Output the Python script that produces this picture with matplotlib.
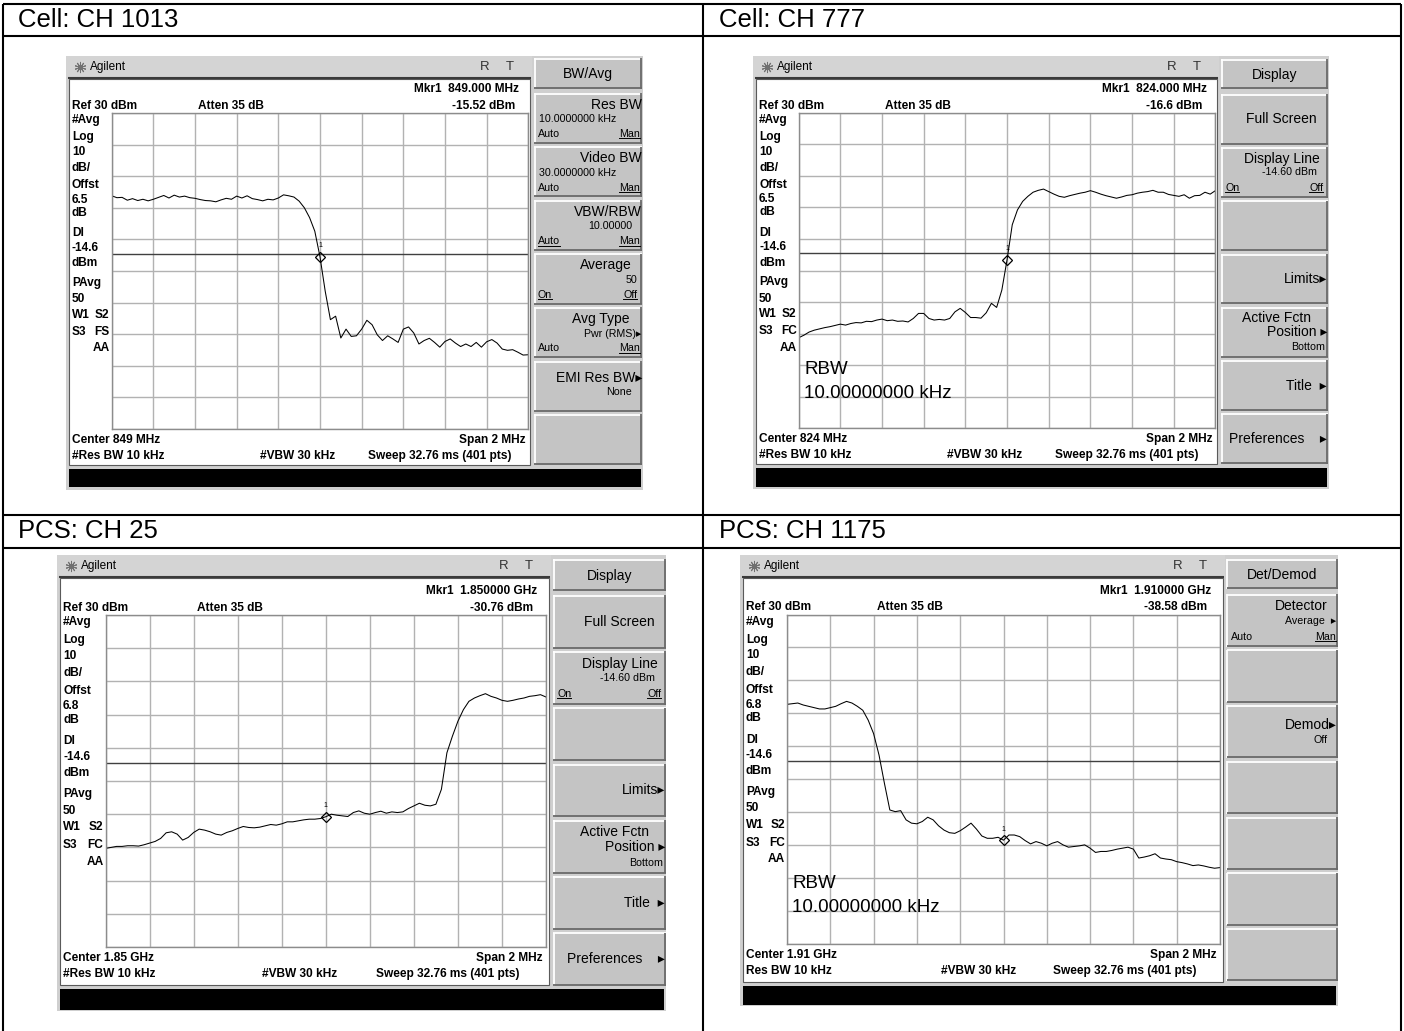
import numpy as np
import matplotlib
matplotlib.use('Agg')
import matplotlib.pyplot as plt
from matplotlib.patches import Rectangle
from matplotlib.lines import Line2D
from matplotlib.transforms import IdentityTransform

W, H = 1404, 1031
FONT = ['Liberation Sans', 'DejaVu Sans']

# ---------------- data ----------------
# levels in dBm, 81 readings across the 2 MHz span (-1 MHz .. +1 MHz)
ch1013_dbm = [3.8, 3.2, 3.3, 2.4, 2.9, 2.3, 2.7, 2.2, 2.7, 3.3,
              3.9, 3.1, 4.0, 3.4, 3.7, 3.2, 3.0, 2.6, 2.3, 2.2,
              1.9, 2.5, 3.0, 2.7, 3.7, 3.1, 3.8, 2.9, 2.6, 2.2,
              2.7, 2.5, 3.1, 4.1, 3.8, 3.4, 2.1, 0.0, -3.1, -7.4,
              -15.52, -26.4, -35.4, -34.3, -41.2, -38.4, -40.7, -40.5, -38.4, -35.6,
              -37.0, -40.2, -42.0, -40.5, -41.5, -42.6, -38.4, -37.7, -39.6, -43.1,
              -42.0, -41.3, -42.6, -44.1, -42.3, -41.5, -42.8, -43.9, -43.1, -43.9,
              -42.6, -44.1, -42.4, -41.7, -42.8, -44.7, -45.1, -44.9, -45.7, -46.6, -46.5]
ch777_dbm = [-41.3, -40.5, -39.5, -38.9, -38.5, -38.1, -37.8, -37.4, -37.0, -37.3,
             -36.8, -36.5, -36.6, -36.1, -36.2, -35.7, -35.4, -35.9, -35.7, -36.1,
             -36.0, -36.3, -35.2, -33.6, -33.6, -35.2, -35.7, -35.5, -35.7, -35.2,
             -33.1, -32.0, -33.3, -34.9, -34.9, -35.1, -33.4, -30.4, -31.7, -26.2,
             -16.6, -5.5, -0.8, 1.9, 3.5, 4.8, 5.4, 5.8, 5.0, 4.2,
             3.5, 3.2, 3.7, 4.1, 4.5, 4.8, 5.3, 4.8, 4.2, 3.7,
             3.3, 2.9, 3.3, 3.8, 4.0, 4.5, 4.8, 5.0, 5.4, 4.8,
             4.8, 4.1, 3.8, 3.5, 4.0, 2.9, 3.7, 3.8, 4.8, 4.2, 5.3]
ch25_dbm = [-40.3, -40.0, -39.7, -39.7, -39.5, -39.5, -39.6, -39.2, -38.7, -38.2,
            -37.3, -35.6, -35.3, -36.0, -37.8, -37.0, -35.5, -34.5, -34.8, -35.3,
            -36.0, -36.3, -35.5, -35.0, -34.3, -33.7, -34.0, -34.1, -33.9, -33.5,
            -33.1, -33.3, -32.9, -32.3, -32.3, -32.0, -31.7, -31.5, -31.5, -31.3,
            -30.76, -30.0, -30.3, -30.5, -30.7, -29.5, -29.0, -29.7, -30.0, -29.5,
            -29.1, -29.7, -29.3, -29.5, -29.3, -28.3, -27.5, -26.7, -27.3, -27.5,
            -27.0, -22.5, -11.5, -6.5, -2.0, 1.5, 4.0, 5.0, 5.7, 6.3,
            5.5, 5.0, 4.3, 4.0, 4.3, 4.7, 5.0, 5.5, 5.7, 6.0, 5.3]
ch1175_dbm = [2.7, 2.9, 3.1, 2.5, 2.1, 1.7, 1.3, 1.3, 1.7, 2.1,
              2.9, 3.6, 3.1, 2.1, 0.9, -2.1, -6.2, -12.7, -21.3, -29.4,
              -29.9, -29.6, -32.4, -33.4, -33.6, -32.9, -31.6, -32.4, -34.2, -35.5,
              -36.3, -36.5, -35.7, -34.6, -33.4, -35.2, -37.3, -38.0, -38.0, -37.7,
              -38.58, -37.0, -37.0, -37.5, -38.7, -39.7, -39.0, -39.5, -40.3, -39.5,
              -39.0, -40.0, -40.7, -40.5, -40.3, -40.0, -41.0, -42.3, -42.0, -42.0,
              -41.7, -41.3, -41.0, -40.7, -41.3, -44.0, -43.7, -43.3, -42.7, -44.0,
              -44.3, -44.5, -45.1, -45.4, -45.8, -46.3, -46.1, -46.4, -46.8, -47.1, -46.9]

freq_offset = np.linspace(-1, 1, 81)   # MHz from center, span 2 MHz
ref_level = 30
display_line = -14.6
titles = ['Cell: CH 1013', 'Cell: CH 777', 'PCS: CH 25', 'PCS: CH 1175']
centers = ['Center 849 MHz', 'Center 824 MHz', 'Center 1.85 GHz', 'Center 1.91 GHz']
mkr_freqs = ['Mkr1  849.000 MHz', 'Mkr1  824.000 MHz', 'Mkr1  1.850000 GHz', 'Mkr1  1.910000 GHz']
mkr_levels = ['-15.52 dBm', '-16.6 dBm', '-30.76 dBm', '-38.58 dBm']
offsets = ['6.5', '6.5', '6.8', '6.8']
detectors = ['FS', 'FC', 'FC', 'FC']
res_bw = ['#Res BW 10 kHz', '#Res BW 10 kHz', '#Res BW 10 kHz', 'Res BW 10 kHz']

fig = plt.figure(figsize=(W / 100, H / 100), dpi=100)
underlined = []


def fx(x):
    return x / W


def fy(y):
    return 1 - y / H


def box(x0, y0, x1, y1, fc, ec='none', lw=0, z=-3):
    fig.add_artist(Rectangle((fx(x0), fy(y1)), fx(x1) - fx(x0), fy(y0) - fy(y1),
                             transform=fig.transFigure, fc=fc, ec=ec, lw=lw, zorder=z))


def seg(x0, y0, x1, y1, color='black', lw=1.0, z=-1):
    fig.add_artist(Line2D([fx(x0), fx(x1)], [fy(y0), fy(y1)], transform=fig.transFigure,
                          color=color, lw=lw, zorder=z, solid_capstyle='butt'))


def label(x, y, s, size=8.6, weight='bold', ha='left', va='center', color='black'):
    return fig.text(fx(x), fy(y), s, fontsize=size, fontweight=weight, ha=ha, va=va,
                    color=color, family=FONT, zorder=5)


def key(x0, y0, x1, y1, items):
    box(x0, y0, x1, y1, '#c4c4c4', z=-2)
    seg(x0, y0 + 0.7, x1, y0 + 0.7, 'white', 1.3)
    seg(x0 + 0.7, y0, x0 + 0.7, y1, 'white', 1.3)
    seg(x0, y1 - 0.7, x1, y1 - 0.7, '#6a6a6a', 1.3)
    seg(x1 - 0.7, y0, x1 - 0.7, y1, '#6a6a6a', 1.3)
    for s, ha, dx, row, size, ul in items:
        if ha == 'left':
            x = x0 + dx
        elif ha == 'right':
            x = x1 - dx
        else:
            x = (x0 + x1) / 2 + dx
        t = label(x, y0 + row * (y1 - y0), s, size=size, weight='normal', ha=ha)
        if ul:
            underlined.append(t)


def rbw_note(x, y):
    label(x, y, 'RBW', size=13.5, weight='normal')
    label(x, y + 23, '10.00000000 kHz', size=13.5, weight='normal')


K_AUTO_MAN = [('Auto', 'left', 4, .81, 7.7, False), ('Man', 'right', 2, .81, 7.7, True)]
keys_bwavg = [
    [('Res BW', 'right', 0, .23, 10, False), ('10.0000000 kHz', 'left', 5, .52, 7.7, False)] + K_AUTO_MAN,
    [('Video BW', 'right', 0, .23, 10, False), ('30.0000000 kHz', 'left', 5, .52, 7.7, False)] + K_AUTO_MAN,
    [('VBW/RBW', 'right', 0, .23, 10, False), ('10.00000', 'right', 10, .52, 7.7, False),
     ('Auto', 'left', 4, .81, 7.7, True), ('Man', 'right', 2, .81, 7.7, True)],
    [('Average', 'right', 10, .23, 10, False), ('50', 'right', 5, .52, 7.7, False),
     ('On', 'left', 4, .81, 7.7, True), ('Off', 'right', 5, .81, 7.7, True)],
    [('Avg Type', 'right', 12, .23, 10, False), ('Pwr (RMS)▸', 'right', 1, .52, 7.7, False)] + K_AUTO_MAN,
    [('EMI Res BW▸', 'right', 0, .33, 10, False), ('None', 'right', 10, .62, 7.7, False)],
    [],
]
keys_display = [
    [('Full Screen', 'right', 11, .5, 10, False)],
    [('Display Line', 'right', 8, .23, 10, False), ('-14.60 dBm', 'right', 11, .5, 7.7, False),
     ('On', 'left', 4, .8, 7.7, True), ('Off', 'right', 5, .8, 7.7, True)],
    [],
    [('Limits▸', 'right', 1, .5, 10, False)],
    [('Active Fctn', 'right', 17, .22, 10, False), ('Position ▸', 'right', 1, .5, 10, False),
     ('Bottom', 'right', 3, .8, 7.7, False)],
    [('Title  ▸', 'right', 1, .5, 10, False)],
    [('Preferences    ▸', 'right', 1, .5, 10, False)],
]
keys_detdemod = [
    [('Detector', 'right', 10, .23, 10, False), ('Average  ▸', 'right', 1, .52, 7.7, False)] + K_AUTO_MAN,
    [],
    [('Demod▸', 'right', 1, .37, 10, False), ('Off', 'right', 10, .66, 7.7, False)],
    [], [], [], [],
]

panels = [
    dict(screen=(66, 56, 643, 490), grid=(111.7, 113, 528.3, 429), keys_x=(534, 642),
         key_title=(58, 89), keys=(93, 468), bar=(469, 487), menu='BW/Avg', keys_list=keys_bwavg,
         trace=ch1013_dbm, rbw=None),
    dict(screen=(753, 56, 1329, 489), grid=(798.7, 112.7, 1215.4, 428.3), keys_x=(1221, 1328),
         key_title=(59, 89), keys=(94, 467), bar=(468, 487), menu='Display', keys_list=keys_display,
         trace=ch777_dbm, rbw=(804, 370)),
    dict(screen=(57, 555, 666, 1011), grid=(105.6, 615, 546, 947), keys_x=(553, 666),
         key_title=(559, 591), keys=(595, 989), bar=(989, 1010), menu='Display', keys_list=keys_display,
         trace=ch25_dbm, rbw=None),
    dict(screen=(740, 555, 1338, 1006), grid=(787, 614.5, 1220, 943.6), keys_x=(1226.6, 1337.6),
         key_title=(559, 589), keys=(594, 984), bar=(986, 1005), menu='Det/Demod', keys_list=keys_detdemod,
         trace=ch1175_dbm, rbw=(792, 884)),
]

left_rows = [('#Avg', .22), ('Log', .76), ('10', 1.23), ('dB/', 1.74), ('Offst', 2.28),
             (None, 2.75), ('dB', 3.16), ('Dl', 3.8), ('-14.6', 4.27), ('dBm', 4.75),
             ('PAvg', 5.38), ('50', 5.89)]

for i, p in enumerate(panels):
    sx0, sy0, sx1, sy1 = p['screen']
    gx0, gy0, gx1, gy1 = p['grid']
    kx0, kx1 = p['keys_x']
    by0, by1 = p['bar']
    gw, gh = gx1 - gx0, gy1 - gy0

    # screen frame, title bar, white display area, black status bar
    box(sx0, sy0, sx1, sy1, '#cfcfcf', z=-5)
    box(sx0, sy0, kx0 - 2, sy0 + 21, '#d4d4d4', z=-4)
    box(sx0 + 3, sy0 + 23, kx0 - 4, by0 - 4, 'white', ec='#5a5a5a', lw=0.8, z=-4)
    seg(sx0 + 2, sy0 + 22, kx0 - 3, sy0 + 22, '#3a3a3a', 1.5, z=-3)
    box(sx0 + 3, by0, sx1 - 2, by1, 'black', z=-2)
    fig.add_artist(Line2D([fx(sx0 + 14)], [fy(sy0 + 11)], transform=fig.transFigure, marker=(10, 2, 0),
                          ms=8, mew=0.7, color='#707070', zorder=5))
    label(sx0 + 24, sy0 + 11, 'Agilent', size=8.5, weight='normal')
    label(kx0 - 49, sy0 + 11, 'R', size=9.5, weight='normal', ha='center', color='#333333')
    label(kx0 - 24, sy0 + 11, 'T', size=9.5, weight='normal', ha='center', color='#333333')

    # softkeys
    ky0, ky1 = p['key_title']
    key(kx0, ky0, kx1, ky1, [(p['menu'], 'center', 0, .52, 10, False)])
    k0, k1 = p['keys']
    kh = (k1 - k0) / 7
    for j, items in enumerate(p['keys_list']):
        key(kx0, k0 + j * kh, kx1, k0 + (j + 1) * kh - 3, items)

    # annotation text around the graticule
    lx = sx0 + 6
    label(gx1 - 9, gy0 - 24, mkr_freqs[i], ha='right')
    label(lx, gy0 - 7, 'Ref 30 dBm')
    label(gx0 + 0.207 * gw, gy0 - 7, 'Atten 35 dB')
    label(gx1 - 13, gy0 - 7, mkr_levels[i], ha='right')
    for s, r in left_rows:
        label(lx, gy0 + r * gh / 10, offsets[i] if s is None else s)
    label(lx, gy0 + 6.39 * gh / 10, 'W1')
    label(gx0 - 2, gy0 + 6.39 * gh / 10, 'S2', ha='right')
    label(lx, gy0 + 6.93 * gh / 10, 'S3')
    label(gx0 - 2, gy0 + 6.93 * gh / 10, detectors[i], ha='right')
    label(gx0 - 2, gy0 + 7.44 * gh / 10, 'AA', ha='right')
    label(lx, gy1 + 11, centers[i])
    label(gx1 - 3, gy1 + 11, 'Span 2 MHz', ha='right')
    label(lx, gy1 + 27, res_bw[i])
    label(gx0 + 0.356 * gw, gy1 + 27, '#VBW 30 kHz')
    label(gx0 + 0.615 * gw, gy1 + 27, 'Sweep 32.76 ms (401 pts)')

    # graticule with trace
    ax = fig.add_axes([fx(gx0), fy(gy1), fx(gx1) - fx(gx0), fy(gy0) - fy(gy1)])
    ax.set_xlim(-1, 1)
    ax.set_ylim(ref_level - 100, ref_level)
    ax.set_xticks(np.linspace(-1, 1, 11))
    ax.set_yticks(np.arange(ref_level - 100, ref_level + 1, 10))
    ax.grid(True, color='#b2b2b2', lw=1.0)
    ax.tick_params(length=0, labelbottom=False, labelleft=False)
    for sp in ax.spines.values():
        sp.set_color('#8c8c8c')
        sp.set_linewidth(1.0)
    ax.axhline(display_line, color='#404040', lw=1.0)
    ax.plot(freq_offset, p['trace'], color='black', lw=0.75)
    mk = p['trace'][40]
    ax.plot([freq_offset[40]], [mk], marker='D', ms=5, mfc='none', mec='black', mew=0.9)
    ax.annotate('1', (freq_offset[40], mk), xytext=(0, 8), textcoords='offset points',
                ha='center', va='center', fontsize=5, family=FONT)
    if p['rbw']:
        rbw_note(*p['rbw'])

# document table around the four screenshots
for y in (4, 36, 515, 548):
    seg(3, y, 1401, y, 'black', 1.5, z=1)
for x in (3, 703, 1401):
    seg(x, 4, x, 1031, 'black', 1.5, z=1)
for i, (x, y) in enumerate([(18, 20), (719, 20), (18, 531), (719, 531)]):
    label(x, y, titles[i], size=18.5, weight='normal')

# underline the selected softkey states
fig.canvas.draw()
rend = fig.canvas.get_renderer()
for t in underlined:
    bb = t.get_window_extent(rend)
    fig.add_artist(Line2D([bb.x0, bb.x1], [bb.y0 + 0.5, bb.y0 + 0.5], transform=IdentityTransform(),
                          color='black', lw=0.7, zorder=6))

fig.savefig('out.png', dpi=100)
